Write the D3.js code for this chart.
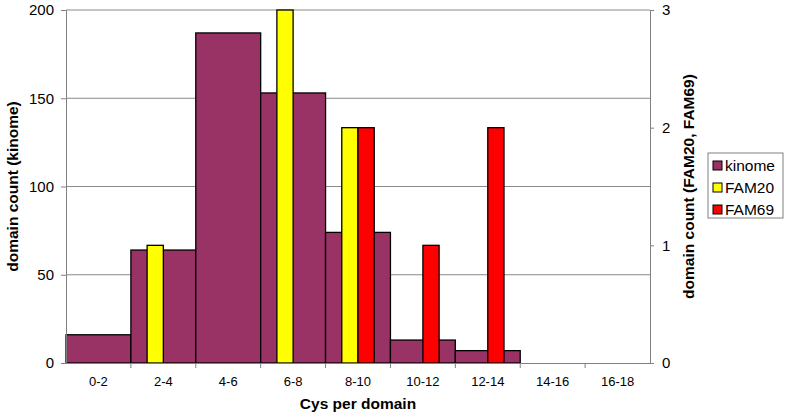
<!DOCTYPE html>
<html>
<head>
<meta charset="utf-8">
<script src="https://cdn.jsdelivr.net/npm/d3@7"></script>
<style>
  body { margin: 0; background: #fff; }
  svg { font-family: "Liberation Sans", Arial, sans-serif; }
  .tick text { fill: #000; }
  .axis-title { font-size: 15.5px; font-weight: bold; }
</style>
</head>
<body>
<svg id="chart" width="788" height="420"></svg>
<script>
const categories = ["0-2", "2-4", "4-6", "6-8", "8-10", "10-12", "12-14", "14-16", "16-18"];
const kinome = [16, 64, 187, 153, 74, 13, 7, 0, 0];
const fam20 = [0, 1, 0, 3, 2, 0, 0, 0, 0];
const fam69 = [0, 0, 0, 0, 2, 1, 2, 0, 0];
const leftTicks = [0, 50, 100, 150, 200];
const rightTicks = [0, 1, 2, 3];

const colors = { kinome: "#993366", FAM20: "#FFFF00", FAM69: "#FF0000" };

const margin = { top: 10, right: 138, bottom: 57, left: 66 };
const width = 788, height = 420;
const svg = d3.select("#chart");

const x = d3.scaleBand()
    .domain(categories)
    .range([margin.left, width - margin.right])
    .padding(0);

// secondary series sit in the middle half of each category
const xSub = d3.scaleBand()
    .domain(["FAM20", "FAM69"])
    .range([0, x.bandwidth()])
    .paddingOuter(1)
    .paddingInner(0);

const yLeft = d3.scaleLinear().domain([0, 200]).range([height - margin.bottom, margin.top]);
const yRight = d3.scaleLinear().domain([0, 3]).range([height - margin.bottom, margin.top]);

// gridlines
svg.append("g")
    .selectAll("line")
    .data(leftTicks.filter((d) => d > 0))
    .join("line")
    .attr("x1", margin.left)
    .attr("x2", width - margin.right)
    .attr("y1", (d) => yLeft(d))
    .attr("y2", (d) => yLeft(d))
    .attr("stroke", "#8a8a8a")
    .attr("stroke-width", 1);

// kinome bars (primary axis, no gap)
svg.append("g")
    .selectAll("rect")
    .data(categories.map((c, i) => ({ c, v: kinome[i] })).filter((d) => d.v > 0))
    .join("rect")
    .attr("x", (d) => x(d.c))
    .attr("y", (d) => yLeft(d.v))
    .attr("width", x.bandwidth())
    .attr("height", (d) => yLeft(0) - yLeft(d.v))
    .attr("fill", colors.kinome)
    .attr("stroke", "#000")
    .attr("stroke-width", 1.3);

// FAM bars (secondary axis)
const famData = [];
categories.forEach((c, i) => {
    if (fam20[i] > 0) famData.push({ c, s: "FAM20", v: fam20[i] });
    if (fam69[i] > 0) famData.push({ c, s: "FAM69", v: fam69[i] });
});

svg.append("g")
    .selectAll("rect")
    .data(famData)
    .join("rect")
    .attr("x", (d) => x(d.c) + xSub(d.s))
    .attr("y", (d) => yRight(d.v))
    .attr("width", xSub.bandwidth())
    .attr("height", (d) => yRight(0) - yRight(d.v))
    .attr("fill", (d) => colors[d.s])
    .attr("stroke", "#000")
    .attr("stroke-width", 1.3);

// left axis
const gl = svg.append("g")
    .attr("transform", `translate(${margin.left},0)`)
    .call(d3.axisLeft(yLeft).tickValues(leftTicks).tickSize(5).tickPadding(7));
gl.select(".domain").attr("stroke", "#808080");
gl.selectAll(".tick line").attr("stroke", "#808080");
gl.selectAll(".tick text").attr("font-size", 15);

// right axis
const gr = svg.append("g")
    .attr("transform", `translate(${width - margin.right},0)`)
    .call(d3.axisRight(yRight).tickValues(rightTicks).tickFormat(d3.format("d")).tickSize(4).tickPadding(8));
gr.select(".domain").attr("stroke", "#808080");
gr.selectAll(".tick line").attr("stroke", "#808080");
gr.selectAll(".tick text").attr("font-size", 15);

// bottom axis: ticks on category boundaries
const gb = svg.append("g")
    .attr("transform", `translate(0,${height - margin.bottom})`)
    .call(d3.axisBottom(x).tickSize(0).tickPadding(14));
gb.select(".domain").attr("stroke", "#808080");
gb.selectAll(".tick text").attr("font-size", 13);
gb.append("g")
    .selectAll("line")
    .data(categories.slice(1))
    .join("line")
    .attr("x1", (d) => x(d))
    .attr("x2", (d) => x(d))
    .attr("y1", 0)
    .attr("y2", 5)
    .attr("stroke", "#808080");

// axis titles
svg.append("text")
    .attr("class", "axis-title")
    .attr("text-anchor", "middle")
    .attr("x", (margin.left + width - margin.right) / 2)
    .attr("y", 409)
    .text("Cys per domain");

svg.append("text")
    .attr("class", "axis-title")
    .attr("text-anchor", "middle")
    .attr("transform", `translate(18,${(margin.top + height - margin.bottom) / 2}) rotate(-90)`)
    .text("domain count (kinome)");

svg.append("text")
    .attr("class", "axis-title")
    .attr("text-anchor", "middle")
    .attr("transform", `translate(694,${(margin.top + height - margin.bottom) / 2}) rotate(-90)`)
    .text("domain count (FAM20, FAM69)");

// legend
const legend = svg.append("g").attr("transform", "translate(708,153)");
legend.append("rect")
    .attr("width", 75)
    .attr("height", 65)
    .attr("fill", "#fff")
    .attr("stroke", "#808080");
const series = ["kinome", "FAM20", "FAM69"];
const item = legend.selectAll("g.item")
    .data(series)
    .join("g")
    .attr("class", "item")
    .attr("transform", (d, i) => `translate(5,${12.5 + i * 22})`);
item.append("rect")
    .attr("x", 0)
    .attr("y", -4.5)
    .attr("width", 9)
    .attr("height", 9)
    .attr("fill", (d) => colors[d])
    .attr("stroke", "#000");
item.append("text")
    .attr("x", 12)
    .attr("y", 5.5)
    .attr("font-size", 15.5)
    .text((d) => d);
</script>
</body>
</html>
